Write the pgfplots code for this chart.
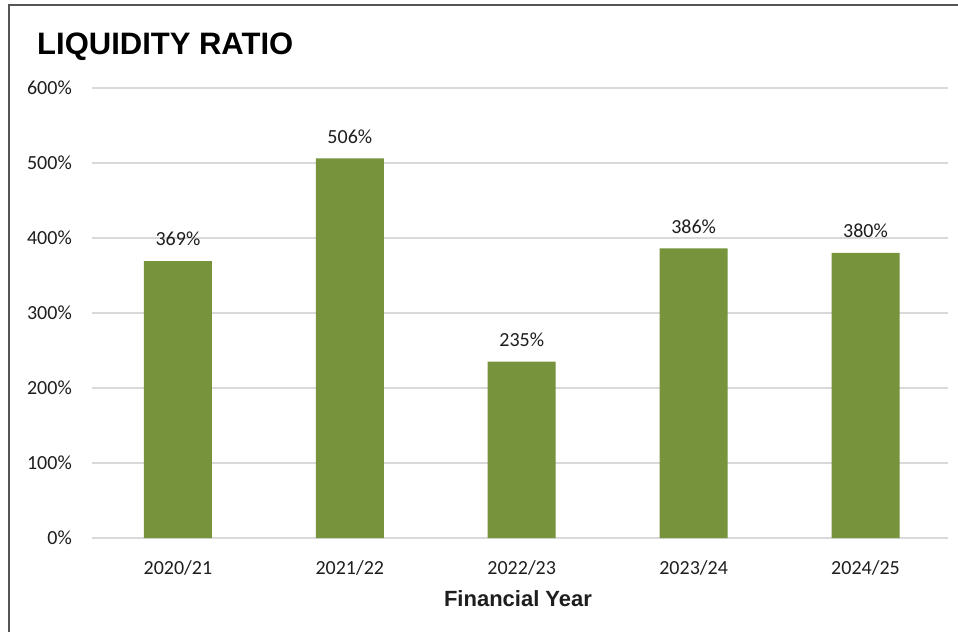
\documentclass[border=0pt]{standalone}
\usepackage{fontspec}
\setmainfont{Carlito}
\newfontfamily\arialf{Liberation Sans}
\usepackage{pgfplots}
\pgfplotsset{compat=1.18}
\definecolor{barg}{RGB}{119,147,60}
\definecolor{gridc}{RGB}{217,217,217}
\definecolor{framec}{RGB}{85,85,85}
\definecolor{txt}{RGB}{30,30,30}
\begin{document}
\begin{tikzpicture}
\useasboundingbox (0,0) rectangle (958bp,632bp);
\fill[white] (0,0) rectangle (958bp,632bp);
\draw[framec, line width=2.2bp] (9bp,0) -- (9bp,627bp) -- (958bp,627bp);
\node[anchor=base west, inner sep=0pt, font=\arialf\bfseries\fontsize{31bp}{37bp}\selectfont] at (37bp,577bp) {LIQUIDITY RATIO};
\begin{axis}[
  at={(92bp,94bp)}, anchor=south west,
  scale only axis, width=856bp, height=450bp,
  xmin=-0.5, xmax=4.48, ymin=0, ymax=600,
  ytick={0,100,...,600},
  yticklabel={\pgfmathprintnumber{\tick}\%},
  xtick=data,
  xticklabels={2020/21,2021/22,2022/23,2023/24,2024/25},
  axis line style={draw=none},
  tick style={draw=none},
  ymajorgrids, grid style={gridc, line width=1.2bp},
  ticklabel style={font=\fontsize{20bp}{24bp}\selectfont, text=txt},
  /pgf/number format/assume math mode=true,
  yticklabel style={inner sep=0pt, xshift=-20bp},
  xticklabel style={inner sep=0pt, yshift=-18bp, anchor=north},
  ybar, bar width=68bp,
  nodes near coords={\pgfmathprintnumber{\pgfplotspointmeta}\%},
  nodes near coords style={font=\fontsize{20bp}{24bp}\selectfont, text=txt, inner sep=0pt, anchor=south, yshift=15bp},
  clip=false,
]
\addplot[fill=barg, draw=none] coordinates {(0,369) (1,506) (2,235) (3,386) (4,380)};
\end{axis}
\node[font=\arialf\bfseries\fontsize{22bp}{26bp}\selectfont, text=txt, inner sep=0pt] at (518bp,33bp) {Financial Year};
\end{tikzpicture}
\end{document}
